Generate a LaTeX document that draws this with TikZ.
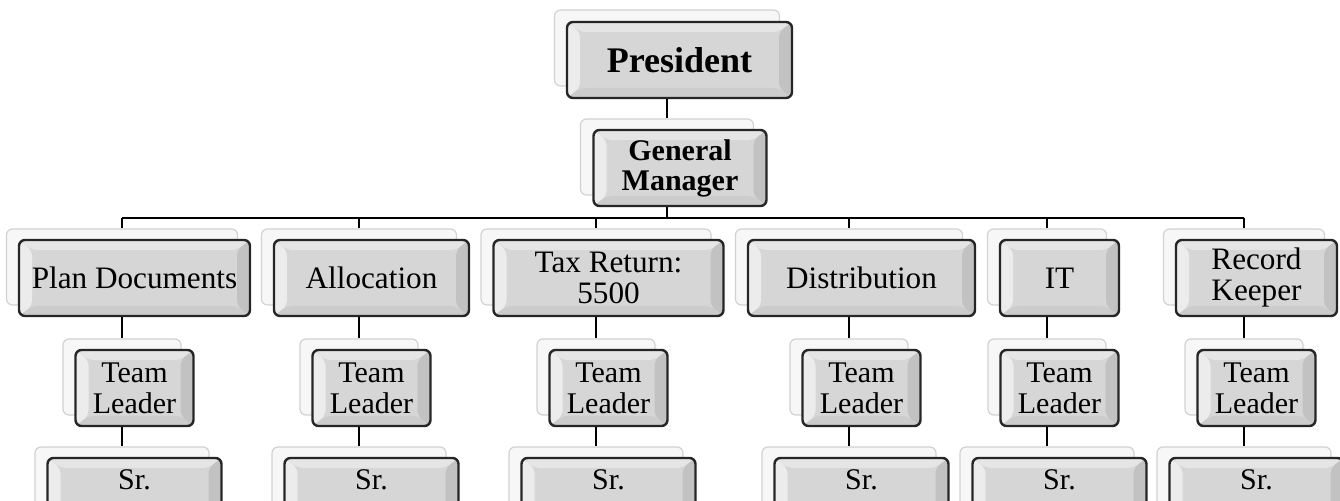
\documentclass[tikz,border=0pt]{standalone}
\usepackage{fontspec}
\setmainfont{Liberation Serif}
\usetikzlibrary{positioning}

\tikzset{
  backbox/.style={draw=gray!35, fill=gray!6, line width=0.6pt, rounded corners=3pt,
    minimum height=38pt, inner sep=0pt},
  frontbox/.style={draw=black!85, fill=gray!32, line width=1.2pt, rounded corners=3pt,
    minimum height=38pt, inner sep=0pt, align=center,
    font=\fontsize{15}{15.5}\selectfont,
    path picture={
      \fill[white!85!gray] (path picture bounding box.south west) -- (path picture bounding box.north west)
        -- ([shift={(6.5pt,-5pt)}]path picture bounding box.north west)
        -- ([shift={(6.5pt,5pt)}]path picture bounding box.south west) -- cycle;
      \fill[gray!20] (path picture bounding box.north west) -- (path picture bounding box.north east)
        -- ([shift={(-6.5pt,-5pt)}]path picture bounding box.north east)
        -- ([shift={(6.5pt,-5pt)}]path picture bounding box.north west) -- cycle;
      \fill[gray!48] (path picture bounding box.north east) -- (path picture bounding box.south east)
        -- ([shift={(-6.5pt,5pt)}]path picture bounding box.south east)
        -- ([shift={(-6.5pt,-5pt)}]path picture bounding box.north east) -- cycle;
      \fill[gray!40] (path picture bounding box.south east) -- (path picture bounding box.south west)
        -- ([shift={(6.5pt,5pt)}]path picture bounding box.south west)
        -- ([shift={(-6.5pt,5pt)}]path picture bounding box.south east) -- cycle;
    }},
  deptbox/.style={frontbox, font=\fontsize{15.6}{15.5}\selectfont},
  srbox/.style={frontbox, text height=11pt, text depth=17pt},
  link/.style={line width=1.1pt, black}
}

\begin{document}
\begin{tikzpicture}[x=0.5pt, y=-0.5pt]
\useasboundingbox (0,0) rectangle (1340,501);
\clip (0,0) rectangle (1340,501);
% President and General Manager
\node[backbox, minimum width=112.5pt] (pres-b) at (667,48) {};
\node[frontbox, minimum width=112.5pt, font=\bfseries\fontsize{18}{20}\selectfont] (pres) at ([shift={(6.25pt,-6pt)}]pres-b) {President};
\node[backbox, minimum width=86.5pt] (gm-b) at (667,157) {};
\node[frontbox, minimum width=86.5pt, font=\bfseries\fontsize{15}{15}\selectfont] (gm) at ([shift={(6.5pt,-5.5pt)}]gm-b) {General\\Manager};
\coordinate (bus) at (667,218);
% Departments
\node[backbox, minimum width=115.5pt] (plan-b) at (122,267) {};
\node[deptbox, minimum width=115.5pt] (plan) at ([shift={(6.25pt,-5.5pt)}]plan-b) {Plan Documents};
\node[backbox, minimum width=97.5pt] (alloc-b) at (359,267) {};
\node[deptbox, minimum width=97.5pt] (alloc) at ([shift={(6.25pt,-5.5pt)}]alloc-b) {Allocation};
\node[backbox, minimum width=115pt] (tax-b) at (596,267) {};
\node[deptbox, minimum width=115pt] (tax) at ([shift={(6.25pt,-5.5pt)}]tax-b) {Tax Return:\\5500};
\node[backbox, minimum width=113.5pt] (dist-b) at (849,267) {};
\node[deptbox, minimum width=113.5pt] (dist) at ([shift={(6.25pt,-5.5pt)}]dist-b) {Distribution};
\node[backbox, minimum width=59.5pt] (it-b) at (1047,267) {};
\node[deptbox, minimum width=59.5pt] (it) at ([shift={(6.25pt,-5.5pt)}]it-b) {IT};
\node[backbox, minimum width=80.5pt] (rk-b) at (1244,267) {};
\node[deptbox, minimum width=80.5pt] (rk) at ([shift={(6.25pt,-5.5pt)}]rk-b) {Record\\Keeper};
% Team leaders
\node[backbox, minimum width=59pt] (plan-tl-b) at (122,377) {};
\node[frontbox, minimum width=59pt] (plan-tl) at ([shift={(6.25pt,-5.5pt)}]plan-tl-b) {Team\\Leader};
\node[backbox, minimum width=59pt] (alloc-tl-b) at (359,377) {};
\node[frontbox, minimum width=59pt] (alloc-tl) at ([shift={(6.25pt,-5.5pt)}]alloc-tl-b) {Team\\Leader};
\node[backbox, minimum width=59pt] (tax-tl-b) at (596,377) {};
\node[frontbox, minimum width=59pt] (tax-tl) at ([shift={(6.25pt,-5.5pt)}]tax-tl-b) {Team\\Leader};
\node[backbox, minimum width=59pt] (dist-tl-b) at (849,377) {};
\node[frontbox, minimum width=59pt] (dist-tl) at ([shift={(6.25pt,-5.5pt)}]dist-tl-b) {Team\\Leader};
\node[backbox, minimum width=59pt] (it-tl-b) at (1047,377) {};
\node[frontbox, minimum width=59pt] (it-tl) at ([shift={(6.25pt,-5.5pt)}]it-tl-b) {Team\\Leader};
\node[backbox, minimum width=59pt] (rk-tl-b) at (1244,377) {};
\node[frontbox, minimum width=59pt] (rk-tl) at ([shift={(6.25pt,-5.5pt)}]rk-tl-b) {Team\\Leader};
% Sr. row (cut off at the bottom)
\node[backbox, minimum width=87pt] (plan-sr-b) at (122,485) {};
\node[srbox, minimum width=87pt] (plan-sr) at ([shift={(6.25pt,-5.5pt)}]plan-sr-b) {Sr.};
\node[backbox, minimum width=87pt] (alloc-sr-b) at (359,485) {};
\node[srbox, minimum width=87pt] (alloc-sr) at ([shift={(6.25pt,-5.5pt)}]alloc-sr-b) {Sr.};
\node[backbox, minimum width=87pt] (tax-sr-b) at (596,485) {};
\node[srbox, minimum width=87pt] (tax-sr) at ([shift={(6.25pt,-5.5pt)}]tax-sr-b) {Sr.};
\node[backbox, minimum width=87pt] (dist-sr-b) at (849,485) {};
\node[srbox, minimum width=87pt] (dist-sr) at ([shift={(6.25pt,-5.5pt)}]dist-sr-b) {Sr.};
\node[backbox, minimum width=87pt] (it-sr-b) at (1047,485) {};
\node[srbox, minimum width=87pt] (it-sr) at ([shift={(6.25pt,-5.5pt)}]it-sr-b) {Sr.};
\node[backbox, minimum width=87pt] (rk-sr-b) at (1244,485) {};
\node[srbox, minimum width=87pt] (rk-sr) at ([shift={(6.25pt,-5.5pt)}]rk-sr-b) {Sr.};
% Connectors
\draw[link] (pres-b |- pres.south) -- (gm-b.north);
\draw[link] (gm-b |- gm.south) -- (bus);
\draw[link] (bus -| plan-b) -- (bus -| rk-b);
\draw[link] (bus -| plan-b) -- (plan-b.north);
\draw[link] (bus -| alloc-b) -- (alloc-b.north);
\draw[link] (bus -| tax-b) -- (tax-b.north);
\draw[link] (bus -| dist-b) -- (dist-b.north);
\draw[link] (bus -| it-b) -- (it-b.north);
\draw[link] (bus -| rk-b) -- (rk-b.north);
\draw[link] (plan-b |- plan.south) -- (plan-tl-b.north);
\draw[link] (alloc-b |- alloc.south) -- (alloc-tl-b.north);
\draw[link] (tax-b |- tax.south) -- (tax-tl-b.north);
\draw[link] (dist-b |- dist.south) -- (dist-tl-b.north);
\draw[link] (it-b |- it.south) -- (it-tl-b.north);
\draw[link] (rk-b |- rk.south) -- (rk-tl-b.north);
\draw[link] (plan-tl-b |- plan-tl.south) -- (plan-sr-b.north);
\draw[link] (alloc-tl-b |- alloc-tl.south) -- (alloc-sr-b.north);
\draw[link] (tax-tl-b |- tax-tl.south) -- (tax-sr-b.north);
\draw[link] (dist-tl-b |- dist-tl.south) -- (dist-sr-b.north);
\draw[link] (it-tl-b |- it-tl.south) -- (it-sr-b.north);
\draw[link] (rk-tl-b |- rk-tl.south) -- (rk-sr-b.north);
\end{tikzpicture}
\end{document}
